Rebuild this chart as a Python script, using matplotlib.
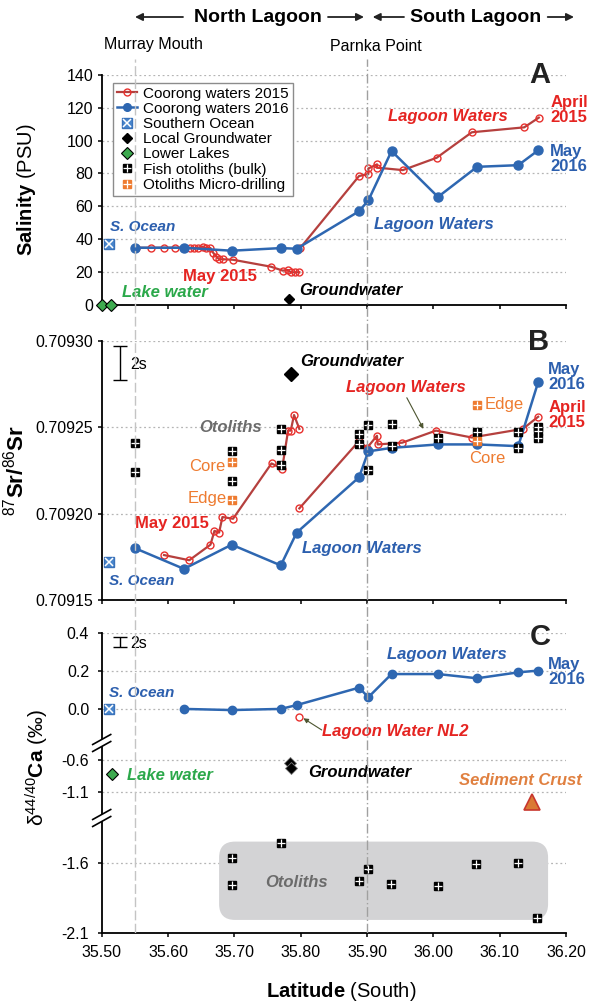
import numpy as np
import matplotlib
matplotlib.use('Agg')
import matplotlib.pyplot as plt
from matplotlib.lines import Line2D
from matplotlib.patches import FancyBboxPatch, FancyArrowPatch, Polygon
from matplotlib.ticker import FormatStrFormatter

plt.rcParams['font.family'] = ['Liberation Sans', 'DejaVu Sans']
plt.rcParams['mathtext.fontset'] = 'custom'
plt.rcParams['mathtext.rm'] = 'Liberation Sans'
plt.rcParams['mathtext.it'] = 'Liberation Sans:italic'
plt.rcParams['mathtext.bf'] = 'Liberation Sans:bold'

# ---- data -----------------------------------------------------------
murray_mouth = 35.55
parnka_point = 35.90
xticks = [35.50, 35.60, 35.70, 35.80, 35.90, 36.00, 36.10, 36.20]

# Coorong waters 2016 sites (May 2016)
lat_2016 = [35.550, 35.624, 35.696, 35.770, 35.794, 35.888, 35.902, 35.937,
            36.007, 36.066, 36.128, 36.158]
sal_2016 = [34.8, 34.8, 33.0, 34.6, 34.2, 57.0, 63.6, 93.6, 65.7, 84.0, 85.0, 94.0]
sr_2016 = [0.709180, 0.709168, 0.709182, 0.709170, 0.709189, 0.709221, 0.709236,
           0.709238, 0.709240, 0.709240, 0.709239, 0.709276]
ca_2016 = [0.002, -0.004, 0.002, 0.022, 0.113, 0.063, 0.184, 0.184, 0.162, 0.193, 0.202]

# Coorong waters 2015, North Lagoon (May 2015)
may15_lat_A = [35.551, 35.575, 35.594, 35.611, 35.624, 35.633, 35.639, 35.645, 35.652,
               35.658, 35.664, 35.668, 35.673, 35.677, 35.683, 35.698, 35.755, 35.773,
               35.781, 35.785, 35.792, 35.798]
may15_sal = [34.8, 34.8, 34.8, 34.8, 34.8, 34.8, 34.5, 34.8, 35.5, 34.6, 34.6, 31.8,
             29.4, 27.8, 27.8, 27.5, 23.3, 20.9, 21.3, 19.9, 19.9, 19.9]
may15_lat_B = [35.594, 35.632, 35.664, 35.670, 35.677, 35.682, 35.698, 35.756, 35.772,
               35.781, 35.785, 35.790, 35.798]
may15_sr = [0.709176, 0.709173, 0.709182, 0.709190, 0.709189, 0.709198, 0.709197,
            0.709229, 0.709226, 0.709248, 0.709248, 0.709257, 0.709249]

# Coorong waters 2015, South Lagoon (April 2015)
apr15_lat_A = [35.799, 35.888, 35.902, 35.902, 35.915, 35.915, 35.954, 36.005, 36.058,
               36.137, 36.159]
apr15_sal = [34.5, 78.4, 79.6, 83.0, 85.5, 83.5, 82.0, 89.5, 105.0, 108.0, 113.9]
apr15_lat_B = [35.798, 35.888, 35.900, 35.915, 35.916, 35.953, 36.004, 36.058, 36.135,
               36.158]
apr15_sr = [0.709203, 0.709242, 0.709238, 0.709245, 0.709240, 0.709241, 0.709248,
            0.709244, 0.709249, 0.709256]

# end members
ocean_lat = 35.511
ocean_sal = 37.0
ocean_sr = 0.709172
ocean_ca = 0.0
gw_lat_A, gw_sal = 35.783, 3.6
gw_lat_B, gw_sr = 35.785, 0.709281
gw_lat_C = [35.784, 35.786]
gw_ca = [-0.65, -0.72]
lakes_lat_A = [35.500, 35.514]
lakes_sal = [0.0, 0.0]
lakes_lat_C, lakes_ca = 35.516, -0.817
nl2_lat, nl2_ca = 35.798, -0.038
crust_lat, crust_ca = 36.148, -1.245

# fish otoliths
oto_lat_B = [35.550, 35.550, 35.696, 35.696, 35.770, 35.770, 35.770, 35.888, 35.888,
             35.902, 35.902, 35.937, 35.937, 36.007, 36.066, 36.128, 36.128, 36.158,
             36.158, 36.158]
oto_sr = [0.709241, 0.709224, 0.709236, 0.709219, 0.709249, 0.709237, 0.709228,
          0.709246, 0.709240, 0.709251, 0.709225, 0.709252, 0.709239, 0.709244,
          0.709247, 0.709247, 0.709238, 0.709250, 0.709248, 0.709244]
micro_lat = [35.696, 35.696, 36.066, 36.066]
micro_sr = [0.709230, 0.709208, 0.709263, 0.709242]
oto_lat_C = [35.696, 35.696, 35.770, 35.888, 35.902, 35.936, 36.007, 36.065, 36.127, 36.157]
oto_ca = [-1.564, -1.756, -1.452, -1.725, -1.641, -1.751, -1.761, -1.607, -1.596, -1.996]

# 2s analytical uncertainty
err_lat = 35.528
err_sr, err_sr_2s = 0.709287, 0.00001
err_ca, err_ca_2s = 0.352, 0.028

# ---- colours --------------------------------------------------------
BLUE = '#2E67B1'
BLUE_T = '#2C5FAE'
RED_L = '#B5403E'
RED_M = '#E8302D'
RED_T = '#E52421'
GREEN = '#2BA84A'
ORANGE = '#EE7B30'
GRID = '#B5B5B5'

W, H = 596, 1005
fig = plt.figure(figsize=(W / 100, H / 100), dpi=100)
LEFT, RIGHT = 101.7, 566.0


def box(top, bottom):
    return [LEFT / W, 1 - bottom / H, (RIGHT - LEFT) / W, (bottom - top) / H]


def style(ax, bottom=True, xlabels=False, ypad=3):
    ax.set_facecolor('none')
    ax.set_xlim(35.5, 36.2)
    ax.set_xticks(xticks)
    for s in ['top', 'right']:
        ax.spines[s].set_visible(False)
    ax.spines['left'].set_linewidth(1.3)
    ax.spines['bottom'].set_linewidth(1.3)
    ax.spines['bottom'].set_visible(bottom)
    ax.tick_params(direction='out', length=3, width=1.1, labelsize=11.5)
    ax.tick_params(axis='y', pad=ypad)
    ax.tick_params(axis='x', bottom=bottom, labelbottom=xlabels, pad=6)
    ax.xaxis.set_major_formatter(FormatStrFormatter('%.2f'))
    ax.yaxis.grid(True, ls=(0, (1.5, 2.2)), color=GRID, lw=0.9)
    ax.set_axisbelow(True)


def otolith(ax, x, y, color='black'):
    ax.plot(x, y, 's', color=color, ms=5.5, ls='none', zorder=4)
    ax.plot(x, y, '+', color='white', ms=5.5, mew=0.9, ls='none', zorder=5)


def ocean(ax, x, y):
    ax.plot(x, y, 's', mfc='#4A86CC', mec='#3A72BA', ms=7.5, ls='none', zorder=4, clip_on=False)
    ax.plot(x, y, 'x', color='white', ms=6, mew=1.1, ls='none', zorder=5, clip_on=False)


def lab(ax, x, y, s, color, size=12, italic=True, bold=True, ha='left', va='center'):
    ax.text(x, y, s, color=color, fontsize=size, ha=ha, va=va,
            style='italic' if italic else 'normal',
            weight='bold' if bold else 'normal', linespacing=1.0)


# ---- panel A: salinity ---------------------------------------------
axA = fig.add_axes(box(74.7, 305))
style(axA)
axA.set_ylim(0, 140)
axA.set_yticks(range(0, 141, 20))
axA.plot(may15_lat_A, may15_sal, '-o', color=RED_L, lw=1.6, ms=5, mfc='none', mec=RED_M, mew=1, zorder=3)
axA.plot(apr15_lat_A, apr15_sal, '-o', color=RED_L, lw=1.6, ms=5, mfc='none', mec=RED_M, mew=1, zorder=3)
axA.plot(lat_2016, sal_2016, '-o', color=BLUE, lw=1.8, ms=6.5, mfc=BLUE, mec=BLUE, zorder=3)
ocean(axA, ocean_lat, ocean_sal)
axA.plot(gw_lat_A, gw_sal, 'D', color='black', ms=5.5, zorder=4)
axA.plot(lakes_lat_A, lakes_sal, 'D', mfc='#3DAA4F', mec='black', ms=6.5, mew=0.8, ls='none',
         zorder=6, clip_on=False)
axA.set_ylabel(r'Salinity $\mathrm{(PSU)}$', fontsize=14.5, fontweight='bold')
axA.yaxis.set_label_coords(-0.137, 0.5)

lab(axA, 35.5125, 47.6, 'S. Ocean', BLUE_T, size=11)
lab(axA, 35.623, 17.6, 'May 2015', RED_T, italic=False)
lab(axA, 35.530, 7.9, 'Lake water', GREEN)
lab(axA, 35.7975, 9.1, 'Groundwater', 'black')
lab(axA, 35.9316, 114.5, 'Lagoon Waters', RED_T)
lab(axA, 36.176, 118.5, 'April\n2015', RED_T, italic=False)
lab(axA, 36.176, 89.0, 'May\n2016', BLUE_T, italic=False)
lab(axA, 35.9105, 49.2, 'Lagoon Waters', BLUE_T)
lab(axA, 36.161, 140, 'A', '#222222', size=21, italic=False, ha='center')

handles = [
    Line2D([], [], color=RED_L, lw=1.6, marker='o', ms=5, mfc='none', mec=RED_M),
    Line2D([], [], color=BLUE, lw=1.8, marker='o', ms=5.5, mfc=BLUE, mec=BLUE),
    (Line2D([], [], marker='s', ls='none', mfc='#4A86CC', mec='#3A72BA', ms=7),
     Line2D([], [], marker='x', ls='none', color='white', ms=5.5, mew=1.1)),
    Line2D([], [], marker='D', ls='none', color='black', ms=5.5),
    Line2D([], [], marker='D', ls='none', mfc='#3DAA4F', mec='black', ms=6.5, mew=0.8),
    (Line2D([], [], marker='s', ls='none', color='black', ms=5.5),
     Line2D([], [], marker='+', ls='none', color='white', ms=5.5, mew=0.9)),
    (Line2D([], [], marker='s', ls='none', color=ORANGE, ms=5.5),
     Line2D([], [], marker='+', ls='none', color='white', ms=5.5, mew=0.9)),
]
labels = ['Coorong waters 2015', 'Coorong waters 2016', 'Southern Ocean',
          'Local Groundwater', 'Lower Lakes', 'Fish otoliths (bulk)',
          'Otoliths Micro-drilling']
leg = axA.legend(handles, labels, loc='upper left', bbox_to_anchor=(0.024, 0.965),
                 borderaxespad=0, fontsize=11, numpoints=1, handlelength=1.3,
                 handletextpad=0.45, labelspacing=0.08, borderpad=0.25,
                 fancybox=False, framealpha=1, edgecolor='#8C8C8C')
leg.get_frame().set_linewidth(1.0)

# ---- panel B: 87Sr/86Sr --------------------------------------------
axB = fig.add_axes(box(340.7, 600))
style(axB)
axB.set_ylim(0.70915, 0.70930)
axB.set_yticks([0.70915, 0.70920, 0.70925, 0.70930])
axB.yaxis.set_major_formatter(FormatStrFormatter('%.5f'))
axB.plot(may15_lat_B, may15_sr, '-o', color=RED_L, lw=1.6, ms=5, mfc='none', mec=RED_M, mew=1, zorder=3)
axB.plot(apr15_lat_B, apr15_sr, '-o', color=RED_L, lw=1.6, ms=5, mfc='none', mec=RED_M, mew=1, zorder=3)
axB.plot(lat_2016, sr_2016, '-o', color=BLUE, lw=1.8, ms=6.5, mfc=BLUE, mec=BLUE, zorder=3)
otolith(axB, oto_lat_B, oto_sr)
otolith(axB, micro_lat, micro_sr, ORANGE)
ocean(axB, ocean_lat, ocean_sr)
axB.plot(gw_lat_B, gw_sr, 'D', color='black', ms=7, zorder=4)
axB.errorbar(err_lat, err_sr, yerr=err_sr_2s, fmt='none', ecolor='black', elinewidth=1,
             capsize=5, capthick=1)
axB.set_ylabel(r'$^{87}$Sr/$^{86}$Sr', fontsize=16, fontweight='bold')
axB.yaxis.set_label_coords(-0.158, 0.5)

lab(axB, 35.543, 0.709286, '2s', 'black', size=11.5, italic=False, bold=False)
lab(axB, 35.7994, 0.709288, 'Groundwater', 'black')
lab(axB, 35.869, 0.709273, 'Lagoon Waters', RED_T)
axB.annotate('', xy=(35.985, 0.709249), xytext=(35.960, 0.709267),
             arrowprops=dict(arrowstyle='-|>', color='#4D5530', lw=0.8, mutation_scale=7,
                             shrinkA=0, shrinkB=0))
lab(axB, 36.078, 0.709263, 'Edge', ORANGE, italic=False, bold=False)
lab(axB, 36.054, 0.709232, 'Core', ORANGE, italic=False, bold=False)
lab(axB, 36.173, 0.709279, 'May\n2016', BLUE_T, italic=False)
lab(axB, 36.173, 0.709257, 'April\n2015', RED_T, italic=False)
lab(axB, 35.8015, 0.709180, 'Lagoon Waters', BLUE_T)
lab(axB, 35.6467, 0.709250, 'Otoliths', '#6B6B6B')
lab(axB, 35.686, 0.709227, 'Core', ORANGE, italic=False, bold=False, ha='right')
lab(axB, 35.689, 0.709209, 'Edge', ORANGE, italic=False, bold=False, ha='right')
lab(axB, 35.550, 0.709194, 'May 2015', RED_T, italic=False)
lab(axB, 35.511, 0.709161, 'S. Ocean', BLUE_T, size=11)
lab(axB, 36.158, 0.709299, 'B', '#222222', size=21, italic=False, ha='center')

# ---- panel C: d44/40Ca, broken into three segments ---------------------
axC1 = fig.add_axes(box(632.7, 743))
axC2 = fig.add_axes(box(743, 818))
axC3 = fig.add_axes(box(818, 932.7))
style(axC1, bottom=False, ypad=6)
style(axC2, bottom=False, ypad=6)
style(axC3, bottom=True, xlabels=True, ypad=6)
axC1.set_ylim(-0.176, 0.4)
axC1.set_yticks([0.0, 0.2, 0.4])
axC1.yaxis.set_major_formatter(FormatStrFormatter('%.1f'))
axC2.set_ylim(-1.498, -0.337)
axC2.set_yticks([-1.1, -0.6])
axC2.yaxis.set_major_formatter(FormatStrFormatter('%.1f'))
axC3.set_ylim(-2.1, -1.274)
axC3.set_yticks([-2.1, -1.6])
axC3.yaxis.set_major_formatter(FormatStrFormatter('%.1f'))

axC1.plot(lat_2016[1:], ca_2016, '-o', color=BLUE, lw=1.8, ms=6, mfc=BLUE, mec=BLUE, zorder=3)
axC1.plot(nl2_lat, nl2_ca, 'o', ms=5, mfc='none', mec=RED_M, mew=1, zorder=3)
ocean(axC1, ocean_lat, ocean_ca)
axC1.errorbar(err_lat, err_ca, yerr=err_ca_2s, fmt='none', ecolor='black', elinewidth=1,
              capsize=5, capthick=1)
lab(axC1, 35.543, 0.346, '2s', 'black', size=11.5, italic=False, bold=False)
lab(axC1, 35.511, 0.085, 'S. Ocean', BLUE_T, size=11)
lab(axC1, 35.930, 0.284, 'Lagoon Waters', BLUE_T)
lab(axC1, 36.173, 0.195, 'May\n2016', BLUE_T, italic=False)
lab(axC1, 36.161, 0.375, 'C', '#222222', size=21, italic=False, ha='center')
lab(axC1, 35.832, -0.117, 'Lagoon Water NL2', RED_T)
axC1.annotate('', xy=(35.804, -0.047), xytext=(35.8317, -0.108),
              arrowprops=dict(arrowstyle='-|>', color='#4D5530', lw=0.8, mutation_scale=7,
                              shrinkA=0, shrinkB=0))

axC2.plot(lakes_lat_C, lakes_ca, 'D', mfc='#3DAA4F', mec='black', ms=6.5, mew=0.8, zorder=4)
axC2.plot(gw_lat_C, gw_ca, 'D', mfc='black', mec='#777777', ms=6.5, mew=0.6, ls='none', zorder=4)
axC2.plot(crust_lat, crust_ca, '^', mfc='#DA7A35', mec='#C8372D', ms=11, mew=1.2, zorder=4)
lab(axC2, 35.5377, -0.843, 'Lake water', GREEN)
lab(axC2, 35.811, -0.801, 'Groundwater', 'black')
lab(axC2, 36.0387, -0.920, 'Sediment Crust', '#E08040')

# grey field behind the otoliths (x 663 px/unit, y 139 px/unit -> aspect 4.78)
axC3.add_patch(FancyBboxPatch((35.677, -2.008), 0.496, 0.564,
                              boxstyle='round,pad=0,rounding_size=0.024',
                              mutation_aspect=4.78, fc='#D3D3D5', ec='none', zorder=1))
otolith(axC3, oto_lat_C, oto_ca)
lab(axC3, 35.746, -1.738, 'Otoliths', '#6B6B6B')

fig.text(37 / W, 1 - 768 / H, r'$\mathrm{\delta}^{44/40}$Ca $\mathrm{(‰)}$', rotation=90,
         fontsize=15, fontweight='bold', ha='center', va='center')
fig.text(341 / W, 1 - 991.7 / H, r'Latitude $\mathrm{(South)}$', fontsize=14.5,
         fontweight='bold', ha='center', va='center')

# axis break marks on the C y-axis
for yb in [743, 818]:
    xs = LEFT / W
    dx, dy, gap = 9 / W, 5 / H, 3.5 / H
    yc = 1 - yb / H
    fig.add_artist(Polygon([(xs - dx, yc - dy - gap), (xs + dx, yc + dy - gap),
                            (xs + dx, yc + dy + gap), (xs - dx, yc - dy + gap)],
                           closed=True, fc='white', ec='none', transform=fig.transFigure,
                           zorder=10))
    for s in (-gap, gap):
        fig.add_artist(Line2D([xs - dx, xs + dx], [yc - dy + s, yc + dy + s], color='black',
                              lw=1.2, transform=fig.transFigure, zorder=11))

# ---- location guides ---------------------------------------------------
axV = fig.add_axes(box(59.3, 932.7), zorder=5)
axV.set_xlim(35.5, 36.2)
axV.set_ylim(0, 1)
axV.axis('off')
axV.axvline(murray_mouth, color='#C4C4C4', lw=1.0, ls=(0, (7, 2.5)))
axV.axvline(parnka_point, color='#A0A0A0', lw=1.0, ls=(0, (7, 2, 1, 2)))

fig.text(153 / W, 1 - 45 / H, 'Murray Mouth', fontsize=11.5, ha='center', va='center')
fig.text(375.7 / W, 1 - 46.7 / H, 'Parnka Point', fontsize=11.5, ha='center', va='center')
fig.text(258 / W, 1 - 17 / H, 'North Lagoon', fontsize=14, fontweight='bold',
         ha='center', va='center')
fig.text(476 / W, 1 - 17 / H, 'South Lagoon', fontsize=14, fontweight='bold',
         ha='center', va='center')
for x0, x1 in [(183, 135), (328, 364), (404, 372.7), (547.7, 574)]:
    fig.add_artist(FancyArrowPatch((x0 / W, 1 - 17 / H), (x1 / W, 1 - 17 / H),
                                   transform=fig.transFigure, arrowstyle='-|>',
                                   mutation_scale=11, lw=1.3, color='#222222',
                                   shrinkA=0, shrinkB=0))

fig.savefig('out.png', dpi=100)
